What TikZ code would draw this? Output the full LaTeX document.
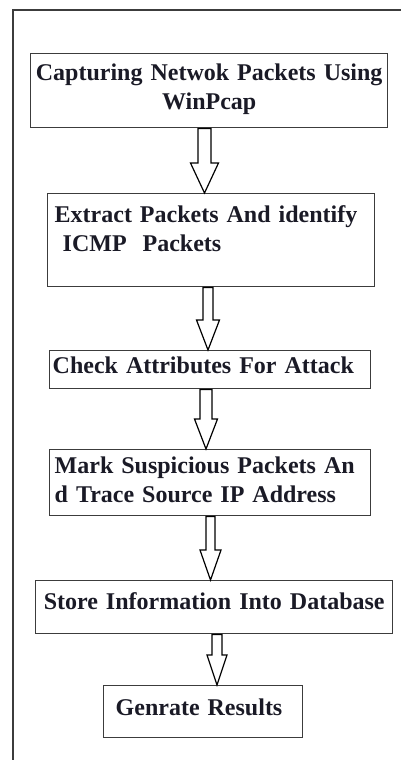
\documentclass[tikz,border=0pt]{standalone}
\usepackage{fontspec}
\setmainfont{Liberation Serif}
\usetikzlibrary{calc}
\definecolor{frame}{HTML}{3C3C3C}
\definecolor{ink}{HTML}{1A1A26}

\begin{document}
\begin{tikzpicture}[x=1pt,y=-1pt,
   font=\fontsize{24}{28.5}\selectfont\bfseries,
   box/.style={draw=frame,line width=1.4pt,anchor=north west,inner ysep=0pt,
               align=left,text=ink},
   hollow/.style={draw=black,line width=1.2pt,fill=white,line join=miter}]
  \useasboundingbox (0,0) rectangle (401,760);
  \draw[frame,line width=1.6pt] (401,10) -- (13,10) -- (13,760);
  \node[box,inner xsep=0pt,text width=357pt,align=center,text height=27pt,text depth=47pt]
     (b1) at (30,53) {Capturing Netwok Packets Using\\WinPcap};
  \node[box,inner xsep=7pt,text width=313pt,text height=29pt,text depth=64pt]
     (b2) at (47,193) {Extract Packets And identify\\\ ICMP\ \ Packets};
  \node[box,inner xsep=3pt,text width=315pt,text height=23pt,text depth=15pt]
     (b3) at (49,350) {Check Attributes For Attack};
  \node[box,inner xsep=5pt,text width=311pt,text height=24pt,text depth=42pt]
     (b4) at (49,449) {Mark Suspicious Packets An\\d Trace Source IP Address};
  \node[box,inner xsep=0pt,text width=357pt,align=center,text height=29pt,text depth=24pt]
     (b5) at (35,580) {Store Information Into Database};
  \node[box,inner xsep=12pt,text width=175pt,text height=30pt,text depth=22pt]
     (b6) at (103,685) {Genrate Results};
  \foreach \s/\t/\c/\w/\k in {b1/b2/204.5/6.5/14,b2/b3/208/5/11.5,b3/b4/206/6/11.5,
                              b4/b5/210.5/4.5/10.5,b5/b6/217/5/10}
    \draw[hollow] let \p1=(\s.south), \p2=(\t.north) in
      (\c-\w,\y1) -- (\c-\w,\y2+30pt) -- (\c-\k,\y2+30pt) -- (\c,\y2)
      -- (\c+\k,\y2+30pt) -- (\c+\w,\y2+30pt) -- (\c+\w,\y1) -- cycle;
\end{tikzpicture}
\end{document}
